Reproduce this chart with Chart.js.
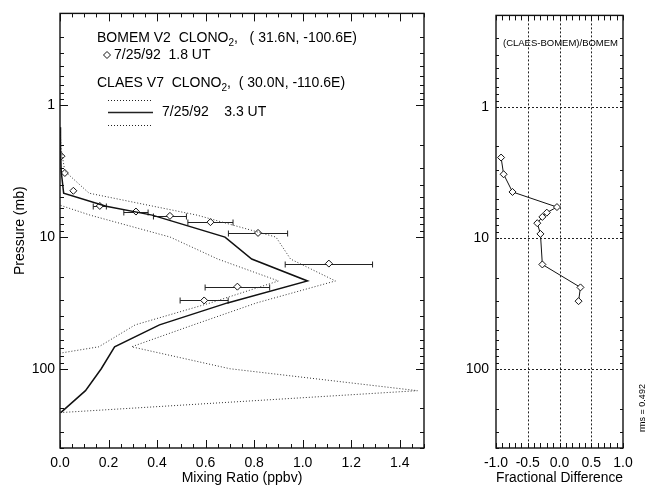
<!DOCTYPE html>
<html>
<head>
<meta charset="utf-8">
<title>CLONO2 profiles: BOMEM V2 vs CLAES V7</title>
<script src="https://cdn.jsdelivr.net/npm/chart.js@4.4.1/dist/chart.umd.min.js"></script>
<style>
  html, body { margin: 0; padding: 0; background: #fff; }
  #wrap { position: relative; width: 650px; height: 487px; overflow: hidden; }
  #profile { position: absolute; left: 0; top: 0; }
  #ratio { position: absolute; left: 430px; top: 0; }
</style>
</head>
<body>
<div id="wrap">
  <canvas id="profile" width="430" height="487"></canvas>
  <canvas id="ratio" width="220" height="487"></canvas>
</div>
<script>
// CLAES V7 retrieval (pressure in mb, mixing ratio in ppbv) with its bounds
const claesPressure = [1.468, 2.154, 3.162, 4.642, 5.83, 6.813, 10, 14.68, 21.54, 31.62, 46.42, 68.13, 100, 146.8, 215.4];
const claesMix      = [0.0, 0.002, 0.005, 0.015, 0.19, 0.38, 0.68, 0.79, 1.02, 0.69, 0.41, 0.225, 0.17, 0.105, 0.003];
const upperPressure = [1.468, 2.154, 3.162, 4.642, 6.813, 10, 14.68, 21.54, 31.62, 46.42, 68.13, 100, 146.8, 215.4];
const claesUpper    = [0.0, 0.005, 0.02, 0.12, 0.565, 0.89, 0.95, 1.135, 0.81, 0.55, 0.295, 0.70, 1.473, 0.0];
const lowerPressure = [4.642, 6.813, 10, 14.68, 21.54, 31.62, 46.42, 68.13, 100, 146.8];
const claesLower    = [-0.15, 0.124, 0.454, 0.65, 0.90, 0.62, 0.31, 0.16, -0.39, -1.26];

// BOMEM V2 balloon profile (ppbv) with 1-sigma errors
const bomemPressure = [2.43, 3.26, 4.45, 5.8, 6.4, 6.9, 7.7, 9.3, 15.9, 23.8, 30.3];
const bomemMix      = [0.006, 0.02, 0.055, 0.164, 0.313, 0.453, 0.62, 0.816, 1.108, 0.731, 0.594];
const bomemErr      = [0.004, 0.006, 0.01, 0.027, 0.05, 0.068, 0.093, 0.122, 0.18, 0.133, 0.099];

// (CLAES-BOMEM)/BOMEM at the BOMEM levels
const fracDiff      = [-0.92, -0.88, -0.74, -0.04, -0.20, -0.27, -0.35, -0.30, -0.27, 0.33, 0.30];
const rmsText       = 'rms = 0.492';

// axis tick labels
const pressureTicks = [1, 10, 100];
const mixTicks      = [0.0, 0.2, 0.4, 0.6, 0.8, 1.0, 1.2, 1.4];
const fracTicks     = [-1.0, -0.5, 0.0, 0.5, 1.0];
const fracGrid      = [-0.5, 0.0, 0.5];

const FONT = "'Liberation Sans', Arial, Helvetica, sans-serif";
Chart.defaults.font.family = FONT;
Chart.defaults.color = '#000';

const pts = (xs, ps) => xs.map((v, i) => ({ x: v, y: ps[i] }));

// inward tick marks for a log pressure axis (1..9 per decade)
function pressureTickMarks(major, minor) {
  const out = [];
  [0.1, 1, 10, 100].forEach(d => {
    for (let k = 1; k <= 9; k++) {
      const v = k * d;
      if (v >= 0.2 - 1e-9 && v <= 400 + 1e-9) out.push({ v, len: k === 1 ? major : minor });
    }
  });
  return out;
}
function linearTickMarks(lo, n, step, every, major, minor) {
  const out = [];
  for (let i = 0; i <= n; i++) out.push({ v: lo + i * step, len: i % every === 0 ? major : minor });
  return out;
}

// boxed frame with inward ticks on all four sides
function framePlugin(xMarks, yMarks) {
  return {
    id: 'frame',
    afterDatasetsDraw(chart) {
      const { ctx, chartArea: a, scales: { x, y } } = chart;
      ctx.save();
      ctx.strokeStyle = '#111';
      ctx.lineWidth = 1;
      ctx.beginPath();
      xMarks.forEach(t => {
        const px = Math.round(x.getPixelForValue(t.v)) + 0.5;
        ctx.moveTo(px, a.bottom); ctx.lineTo(px, a.bottom - t.len);
        ctx.moveTo(px, a.top); ctx.lineTo(px, a.top + t.len);
      });
      yMarks.forEach(t => {
        const py = Math.round(y.getPixelForValue(t.v)) + 0.5;
        ctx.moveTo(a.left, py); ctx.lineTo(a.left + t.len, py);
        ctx.moveTo(a.right, py); ctx.lineTo(a.right - t.len, py);
      });
      ctx.stroke();
      ctx.lineWidth = 1.4;
      ctx.strokeRect(a.left, a.top, a.right - a.left, a.bottom - a.top);
      ctx.restore();
    }
  };
}

// horizontal error bars behind the BOMEM diamonds
const errorBars = {
  id: 'errorBars',
  beforeDatasetsDraw(chart) {
    const { ctx, scales: { x, y } } = chart;
    ctx.save();
    ctx.strokeStyle = '#222';
    ctx.lineWidth = 1;
    ctx.beginPath();
    bomemMix.forEach((v, i) => {
      const py = Math.round(y.getPixelForValue(bomemPressure[i])) + 0.5;
      const x0 = x.getPixelForValue(v - bomemErr[i]);
      const x1 = x.getPixelForValue(v + bomemErr[i]);
      ctx.moveTo(x0, py); ctx.lineTo(x1, py);
      if (bomemErr[i] > 0.02) {
        ctx.moveTo(x0, py - 3); ctx.lineTo(x0, py + 3);
        ctx.moveTo(x1, py - 3); ctx.lineTo(x1, py + 3);
      }
    });
    ctx.stroke();
    ctx.restore();
  }
};

// text with a subscript part: parts = [[text, isSub], ...]
function drawRich(ctx, parts, x, y, size) {
  let cx = x;
  parts.forEach(([t, sub]) => {
    if (sub) {
      ctx.font = `${Math.round(size * 0.68)}px ${FONT}`;
      ctx.fillText(t, cx, y + size * 0.38);
    } else {
      ctx.font = `${size}px ${FONT}`;
      ctx.fillText(t, cx, y);
    }
    cx += ctx.measureText(t).width;
  });
}

function diamond(ctx, x, y, r) {
  ctx.beginPath();
  ctx.moveTo(x - r, y); ctx.lineTo(x, y - r); ctx.lineTo(x + r, y); ctx.lineTo(x, y + r);
  ctx.closePath();
  ctx.fillStyle = '#fff'; ctx.fill();
  ctx.strokeStyle = '#111'; ctx.lineWidth = 1; ctx.stroke();
}

// key in the upper part of the profile panel
const profileKey = {
  id: 'profileKey',
  afterDraw(chart) {
    const ctx = chart.ctx;
    ctx.save();
    ctx.fillStyle = '#000';
    ctx.textBaseline = 'middle';
    ctx.textAlign = 'left';
    drawRich(ctx, [['BOMEM V2  CLONO', false], ['2', true], [',   ( 31.6N, -100.6E)', false]], 97, 38, 14);
    diamond(ctx, 107, 55, 3.5);
    ctx.fillStyle = '#000';
    ctx.font = `14px ${FONT}`;
    ctx.fillText('7/25/92  1.8 UT', 114, 55);
    drawRich(ctx, [['CLAES V7  CLONO', false], ['2', true], [',  ( 30.0N, -110.6E)', false]], 97, 83, 14);
    ctx.strokeStyle = '#222';
    ctx.lineWidth = 1;
    ctx.setLineDash([1, 2]);
    ctx.beginPath();
    ctx.moveTo(108, 100.5); ctx.lineTo(153, 100.5);
    ctx.moveTo(108, 125.5); ctx.lineTo(153, 125.5);
    ctx.stroke();
    ctx.setLineDash([]);
    ctx.lineWidth = 1.4;
    ctx.beginPath();
    ctx.moveTo(108, 112.5); ctx.lineTo(153, 112.5);
    ctx.stroke();
    ctx.font = `14px ${FONT}`;
    ctx.fillText('7/25/92    3.3 UT', 162, 112);
    ctx.restore();
  }
};

const dotted = { borderColor: '#333', borderWidth: 1, borderDash: [1, 2], pointRadius: 0, showLine: true, fill: false };

new Chart(document.getElementById('profile'), {
  type: 'scatter',
  data: {
    datasets: [
      Object.assign({ data: pts(claesUpper, upperPressure) }, dotted),
      Object.assign({ data: pts(claesLower, lowerPressure) }, dotted),
      { data: pts(claesMix, claesPressure), borderColor: '#111', borderWidth: 1.5, pointRadius: 0, showLine: true, fill: false },
      { data: pts(bomemMix, bomemPressure), showLine: false, pointStyle: 'rectRot', pointRadius: 3.5,
        pointBackgroundColor: '#fff', pointBorderColor: '#111', pointBorderWidth: 1 }
    ]
  },
  options: {
    responsive: false,
    animation: false,
    layout: { padding: { top: 13, right: 6, left: 0, bottom: 0 } },
    plugins: { legend: { display: false }, tooltip: { enabled: false } },
    scales: {
      x: {
        type: 'linear', min: 0, max: 1.5,
        afterBuildTicks: s => { s.ticks = mixTicks.map(v => ({ value: v })); },
        afterFit: s => { s.height = 39; },
        ticks: { callback: v => Number(v).toFixed(1), font: { size: 14 }, color: '#000', padding: 7, maxRotation: 0, autoSkip: false },
        grid: { display: false, drawTicks: false },
        border: { display: false },
        title: { display: true, text: 'Mixing Ratio (ppbv)', font: { size: 14 }, color: '#000', padding: { top: 0, bottom: 0 } }
      },
      y: {
        type: 'logarithmic', reverse: true, min: 0.2, max: 400,
        afterBuildTicks: s => { s.ticks = pressureTicks.map(v => ({ value: v })); },
        afterFit: s => { s.width = 60; },
        ticks: { callback: v => String(v), font: { size: 14 }, color: '#000', padding: 5, autoSkip: false },
        grid: { display: false, drawTicks: false },
        border: { display: false },
        title: { display: true, text: 'Pressure (mb)', font: { size: 14 }, color: '#000', padding: { top: 12, bottom: 0 } }
      }
    }
  },
  plugins: [errorBars, framePlugin(linearTickMarks(0, 30, 0.05, 4, 8, 4), pressureTickMarks(8, 4)), profileKey]
});

// dashed reference grid for the difference panel
const ratioGrid = {
  id: 'ratioGrid',
  beforeDatasetsDraw(chart) {
    const { ctx, chartArea: a, scales: { x, y } } = chart;
    ctx.save();
    ctx.strokeStyle = '#222';
    ctx.lineWidth = 1;
    ctx.setLineDash([2, 2]);
    ctx.beginPath();
    fracGrid.forEach(v => {
      const px = Math.round(x.getPixelForValue(v)) + 0.5;
      ctx.moveTo(px, a.top); ctx.lineTo(px, a.bottom);
    });
    pressureTicks.forEach(v => {
      const py = Math.round(y.getPixelForValue(v)) + 0.5;
      ctx.moveTo(a.left, py); ctx.lineTo(a.right, py);
    });
    ctx.stroke();
    ctx.restore();
  },
  afterDraw(chart) {
    const { ctx, chartArea: a } = chart;
    ctx.save();
    ctx.fillStyle = '#000';
    ctx.textAlign = 'center';
    ctx.textBaseline = 'middle';
    ctx.font = `9.5px ${FONT}`;
    ctx.fillText('(CLAES-BOMEM)/BOMEM', (a.left + a.right) / 2 + 1, 43);
    ctx.translate(213, 408);
    ctx.rotate(-Math.PI / 2);
    ctx.font = `9px ${FONT}`;
    ctx.fillText(rmsText, 0, 0);
    ctx.restore();
  }
};

new Chart(document.getElementById('ratio'), {
  type: 'scatter',
  data: {
    datasets: [
      { data: pts(fracDiff, bomemPressure), showLine: true, borderColor: '#111', borderWidth: 1,
        pointStyle: 'rectRot', pointRadius: 3.5, pointBackgroundColor: '#fff', pointBorderColor: '#111', pointBorderWidth: 1 }
    ]
  },
  options: {
    responsive: false,
    animation: false,
    layout: { padding: { top: 13, right: 27, left: 0, bottom: 0 } },
    plugins: { legend: { display: false }, tooltip: { enabled: false } },
    scales: {
      x: {
        type: 'linear', min: -1, max: 1,
        afterBuildTicks: s => { s.ticks = fracTicks.map(v => ({ value: v })); },
        afterFit: s => { s.height = 39; },
        ticks: { callback: v => Number(v).toFixed(1), font: { size: 14 }, color: '#000', padding: 7, maxRotation: 0, autoSkip: false },
        grid: { display: false, drawTicks: false },
        border: { display: false },
        title: { display: true, text: 'Fractional Difference', font: { size: 14 }, color: '#000', padding: { top: 0, bottom: 0 } }
      },
      y: {
        type: 'logarithmic', reverse: true, min: 0.2, max: 400,
        afterBuildTicks: s => { s.ticks = pressureTicks.map(v => ({ value: v })); },
        afterFit: s => { s.width = 66; },
        ticks: { callback: v => String(v), font: { size: 14 }, color: '#000', padding: 7, autoSkip: false },
        grid: { display: false, drawTicks: false },
        border: { display: false }
      }
    }
  },
  plugins: [ratioGrid, framePlugin(linearTickMarks(-1, 20, 0.1, 5, 5, 5), pressureTickMarks(3, 3))]
});
</script>
</body>
</html>
